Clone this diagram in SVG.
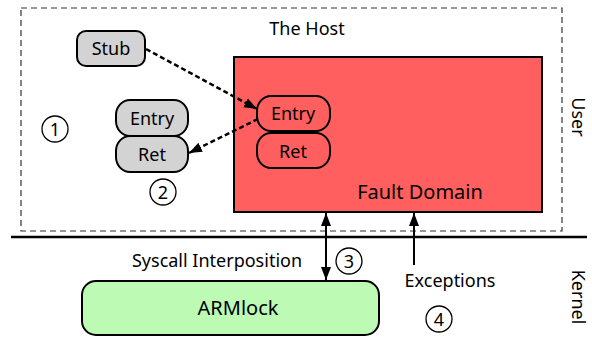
<svg xmlns="http://www.w3.org/2000/svg" width="592" height="341" viewBox="0 0 592 341">
<defs>
<style>
text{font-family:"Noto Sans","Open Sans","DejaVu Sans",sans-serif;font-size:18px;fill:#000;text-anchor:middle}
.gray{fill:#d3d3d3;stroke:#000;stroke-width:2}
.red{fill:#ff5f5f;stroke:#000;stroke-width:2}
.green{fill:#bdfbb5;stroke:#000;stroke-width:2}
.num{fill:#fff;stroke:#000;stroke-width:1.3}
.dash{fill:none;stroke:#000;stroke-width:2.5;stroke-dasharray:5,3}
.solid{fill:none;stroke:#000;stroke-width:2}
</style>
<marker id="ah" markerUnits="userSpaceOnUse" markerWidth="14" markerHeight="12" refX="13" refY="5" orient="auto-start-reverse" viewBox="0 0 14 10">
<path d="M0,0 L13,5 L0,10 z" fill="#000"/>
</marker>
</defs>

<g id="host">
<rect x="21" y="8" width="541" height="223" fill="none" stroke="#333" stroke-width="1.2" stroke-dasharray="6,4"/>
<text x="307" y="35">The Host</text>
</g>
<g id="divider">
<line x1="11" y1="237" x2="587" y2="237" stroke="#000" stroke-width="2.5"/>
<text transform="translate(572,117) rotate(90)">User</text>
<text transform="translate(572,297) rotate(90)">Kernel</text>
</g>

<g id="stub">
<rect class="gray" x="77" y="31" width="68" height="35" rx="9"/>
<text x="111" y="55">Stub</text>
</g>
<g id="entry-gray">
<rect class="gray" x="116" y="100" width="72" height="36" rx="14" ry="15"/>
<text x="152" y="125">Entry</text>
</g>
<g id="ret-gray">
<rect class="gray" x="116" y="136" width="72" height="36" rx="14" ry="15"/>
<text x="152" y="161">Ret</text>
</g>

<g id="fault-domain">
<rect class="red" x="234" y="57" width="308" height="155"/>
<text x="420" y="199" style="font-size:20px">Fault Domain</text>
</g>
<g id="entry-red">
<rect class="red" x="257" y="96" width="73" height="35" rx="14" ry="15"/>
<text x="293" y="120">Entry</text>
</g>
<g id="ret-red">
<rect class="red" x="257" y="133" width="73" height="35" rx="14" ry="15"/>
<text x="293" y="158">Ret</text>
</g>

<g id="armlock">
<rect class="green" x="82" y="281" width="297" height="54" rx="14"/>
<text x="238" y="315" style="font-size:20px">ARMlock</text>
</g>

<g id="labels">
<text x="217" y="267">Syscall Interposition</text>
<text x="450" y="287">Exceptions</text>
</g>

<g id="n1"><circle class="num" cx="55" cy="129" r="13"/><text x="55" y="135.5">1</text></g>
<g id="n2"><circle class="num" cx="163" cy="192" r="13"/><text x="163" y="198.5">2</text></g>
<g id="n3"><circle class="num" cx="349" cy="261" r="13"/><text x="349" y="267.5">3</text></g>
<g id="n4"><circle class="num" cx="439" cy="319" r="13"/><text x="439" y="325.5">4</text></g>

<g id="connectors">
<line class="dash" x1="146" y1="49" x2="257" y2="109" marker-end="url(#ah)"/>
<line class="dash" x1="258" y1="119" x2="189" y2="153" marker-end="url(#ah)"/>
<line class="solid" x1="326" y1="213" x2="326" y2="280" marker-start="url(#ah)" marker-end="url(#ah)"/>
<line class="solid" x1="414" y1="265" x2="414" y2="213" marker-end="url(#ah)"/>
</g>
</svg>
